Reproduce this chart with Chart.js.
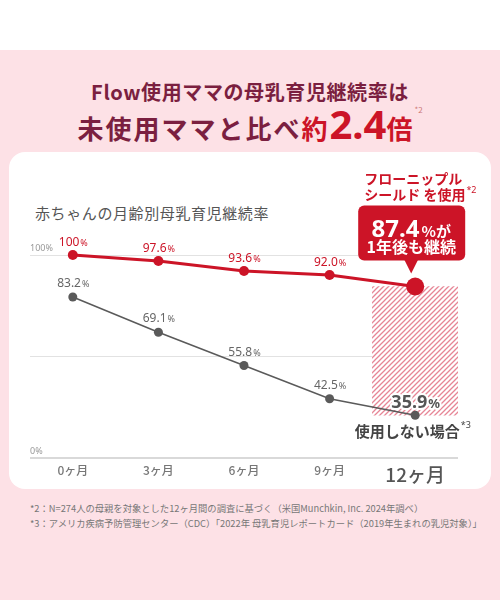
<!DOCTYPE html>
<html lang="ja">
<head>
<meta charset="utf-8">
<script src="https://cdn.jsdelivr.net/npm/chart.js@4.4.1/dist/chart.umd.min.js"></script>
<style>
  html, body { margin: 0; padding: 0; }
  body {
    width: 500px; height: 600px; position: relative; overflow: hidden;
    font-family: "Noto Sans CJK JP", "Noto Sans", sans-serif;
    background: linear-gradient(#ffffff 0, #ffffff 50px, #fde1e6 50px);
  }
  .title { position: absolute; left: 0; width: 500px; text-align: center; color: #7b1f40; font-weight: 700; }
  .t1 { top: 77px; font-size: 20px; letter-spacing: 0.6px; }
  .t2 { top: 90px; font-size: 26px; letter-spacing: 2px; line-height: 40px; }
  .t2 .red { color: #cc1427; }
  .t2 .big { font-size: 40px; letter-spacing: 0; font-family: "Noto Sans", sans-serif; }
  .t2 sup { font-size: 8px; font-weight: 400; color: #c77; vertical-align: 26px; letter-spacing: 0; }
  .card { position: absolute; left: 9px; top: 152px; width: 482px; height: 337px; background: #fff; border-radius: 16px; }
  .sub { position: absolute; left: 35px; top: 202px; font-size: 15px; color: #555; letter-spacing: 0.6px; }
  .notes { position: absolute; left: 30px; top: 501px; font-size: 9.3px; color: #777; line-height: 15px; white-space: nowrap; }
  canvas { position: absolute; left: 0; top: 0; }
</style>
</head>
<body>
<div class="title t1">Flow使用ママの母乳育児継続率は</div>
<div class="title t2">未使用ママと比べ<span class="red">約<span class="big">2.4</span>倍</span><sup>*2</sup></div>
<div class="card"></div>
<div class="sub">赤ちゃんの月齢別母乳育児継続率</div>
<div class="notes">
  *2：N=274人の母親を対象とした12ヶ月間の調査に基づく（米国Munchkin, Inc. 2024年調べ）<br>
  *3：アメリカ疾病予防管理センター（CDC）「2022年 母乳育児レポートカード（2019年生まれの乳児対象）」
</div>
<canvas id="chart" width="500" height="600"></canvas>
<script>
// Data
const months = ['0ヶ月', '3ヶ月', '6ヶ月', '9ヶ月', '12ヶ月'];
const flowRates = [100, 97.6, 93.6, 92.0, 87.4];
const noUseRates = [83.2, 69.1, 55.8, 42.5, 35.9];
const gapRange = [35.9, 87.4];
const yTickValues = [18.8, 59.4, 100];
const yTickLabels = ['0%', '', '100%'];

const RED = '#cc1427';
const GRAY = '#5a5a5a';

// Hatched fill for the 12-month band
function makeHatch() {
    const c = document.createElement('canvas');
    c.width = 5;
    c.height = 5;
    const g = c.getContext('2d');
    g.fillStyle = '#ffffff';
    g.fillRect(0, 0, 5, 5);
    g.strokeStyle = '#e68595';
    g.lineWidth = 1.3;
    g.beginPath();
    g.moveTo(-1, 6); g.lineTo(6, -1);
    g.moveTo(-1, 1); g.lineTo(1, -1);
    g.moveTo(4, 6); g.lineTo(6, 4);
    g.stroke();
    return g.createPattern(c, 'repeat');
}

function drawPct(ctx, x, y, num, numFont, pctFont, color, stroke) {
    ctx.font = numFont;
    const w1 = ctx.measureText(num).width;
    ctx.font = pctFont;
    const w2 = ctx.measureText('%').width;
    const left = x - (w1 + w2) / 2;
    ctx.textAlign = 'left';
    ctx.textBaseline = 'alphabetic';
    ctx.fillStyle = color;
    if (stroke) {
        ctx.strokeStyle = '#fff';
        ctx.lineWidth = 4;
        ctx.lineJoin = 'round';
        ctx.font = numFont;
        ctx.strokeText(num, left, y);
        ctx.font = pctFont;
        ctx.strokeText('%', left + w1 + 1, y);
    }
    ctx.font = numFont;
    ctx.fillText(num, left, y);
    ctx.font = pctFont;
    ctx.fillText('%', left + w1 + 1, y);
}

const fmt = v => (v === 100 ? '100' : v.toFixed(1));

const labelPlugin = {
    id: 'valueLabels',
    afterDatasetsDraw(chart) {
        const ctx = chart.ctx;
        const red = chart.getDatasetMeta(0).data;
        const gray = chart.getDatasetMeta(1).data;
        ctx.save();

        // small labels above points
        for (let i = 0; i < 4; i++) {
            drawPct(ctx, red[i].x, red[i].y - 9, fmt(flowRates[i]),
                '12px "Noto Sans", sans-serif', '9px "Noto Sans", sans-serif', RED);
            drawPct(ctx, gray[i].x, gray[i].y - 10, fmt(noUseRates[i]),
                '12px "Noto Sans", sans-serif', '9px "Noto Sans", sans-serif', '#666');
        }

        // callout for the last Flow point
        const p = red[4];
        const cx = p.x - 4;
        const bottom = p.y - 26;
        const top = bottom - 55;
        const left = cx - 53;
        const right = cx + 54;
        ctx.fillStyle = RED;
        ctx.beginPath();
        ctx.roundRect(left, top, right - left, bottom - top, 6);
        ctx.fill();
        ctx.beginPath();
        ctx.moveTo(cx - 7, bottom - 1);
        ctx.lineTo(cx, bottom + 13);
        ctx.lineTo(cx + 7, bottom - 1);
        ctx.fill();

        ctx.fillStyle = '#fff';
        ctx.textBaseline = 'alphabetic';
        ctx.font = 'bold 24px "Noto Sans", sans-serif';
        const n = fmt(flowRates[4]);
        const wn = ctx.measureText(n).width;
        ctx.font = 'bold 15px "Noto Sans CJK JP", sans-serif';
        const wr = ctx.measureText('%が').width;
        let lx = cx - (wn + wr + 2) / 2;
        ctx.textAlign = 'left';
        ctx.font = 'bold 24px "Noto Sans", sans-serif';
        ctx.fillText(n, lx, top + 31);
        ctx.font = 'bold 15px "Noto Sans CJK JP", sans-serif';
        ctx.fillText('%が', lx + wn + 2, top + 31);
        ctx.textAlign = 'center';
        ctx.font = 'bold 16px "Noto Sans CJK JP", sans-serif';
        ctx.fillText('1年後も継続', cx, top + 47);

        ctx.fillStyle = RED;
        ctx.textAlign = 'left';
        ctx.font = 'bold 14px "Noto Sans CJK JP", sans-serif';
        ctx.fillText('フローニップル', left + 6, top - 22);
        ctx.fillText('シールド を使用', left + 6, top - 6);
        const ws = ctx.measureText('シールド を使用').width;
        ctx.font = '9px "Noto Sans", sans-serif';
        ctx.fillText('*2', left + 7 + ws, top - 13);

        // label for the last non-user point
        const g = gray[4];
        drawPct(ctx, g.x, g.y - 7, fmt(noUseRates[4]),
            'bold 18px "Noto Sans", sans-serif', 'bold 13px "Noto Sans", sans-serif', '#555', true);
        ctx.fillStyle = '#444';
        ctx.textAlign = 'center';
        ctx.font = 'bold 15px "Noto Sans CJK JP", sans-serif';
        ctx.fillText('使用しない場合', g.x - 8, g.y + 22);
        const wu = ctx.measureText('使用しない場合').width;
        ctx.textAlign = 'left';
        ctx.font = '9px "Noto Sans", sans-serif';
        ctx.fillText('*3', g.x - 8 + wu / 2 + 1, g.y + 13);

        ctx.restore();
    }
};

new Chart(document.getElementById('chart'), {
    data: {
        labels: months,
        datasets: [
            {
                type: 'line',
                data: flowRates,
                borderColor: RED,
                backgroundColor: RED,
                borderWidth: 3,
                pointRadius: [5, 5, 5, 5, 9],
                pointBorderWidth: 0,
                clip: false
            },
            {
                type: 'line',
                data: noUseRates,
                borderColor: GRAY,
                backgroundColor: GRAY,
                borderWidth: 1.5,
                pointRadius: 4.5,
                pointBorderWidth: 0,
                clip: false
            },
            {
                type: 'bar',
                data: [null, null, null, null, gapRange],
                backgroundColor: makeHatch(),
                borderWidth: 0,
                barPercentage: 1,
                categoryPercentage: 1
            }
        ]
    },
    plugins: [labelPlugin],
    options: {
        responsive: false,
        animation: false,
        devicePixelRatio: 1,
        layout: { padding: { left: 30, right: 42, top: 255, bottom: 112 } },
        plugins: { legend: { display: false }, tooltip: { enabled: false } },
        scales: {
            x: {
                offset: true,
                grid: { display: false, drawTicks: false },
                border: { display: false },
                ticks: {
                    padding: 5,
                    color: ctx => (ctx.index === 4 ? '#555' : '#777'),
                    font: ctx => (ctx.index === 4
                        ? { size: 19, weight: '500', family: '"Noto Sans CJK JP"' }
                        : { size: 12, weight: '500', family: '"Noto Sans CJK JP"' })
                },
                afterFit: axis => { axis.height = 30; }
            },
            y: {
                min: yTickValues[0],
                max: 100,
                afterBuildTicks: axis => { axis.ticks = yTickValues.map(v => ({ value: v })); },
                afterFit: axis => { axis.width = 0; },
                border: { display: false },
                grid: {
                    drawTicks: false,
                    color: ctx => (ctx.index === 0 ? '#d9d9d9' : '#e2e2e2'),
                    lineWidth: ctx => (ctx.index === 0 ? 2 : 1)
                },
                ticks: {
                    mirror: true,
                    padding: 0,
                    labelOffset: -7,
                    color: '#999',
                    font: { size: 9, family: '"Noto Sans"' },
                    callback: (value, index) => yTickLabels[index]
                }
            }
        }
    }
});
</script>
</body>
</html>
